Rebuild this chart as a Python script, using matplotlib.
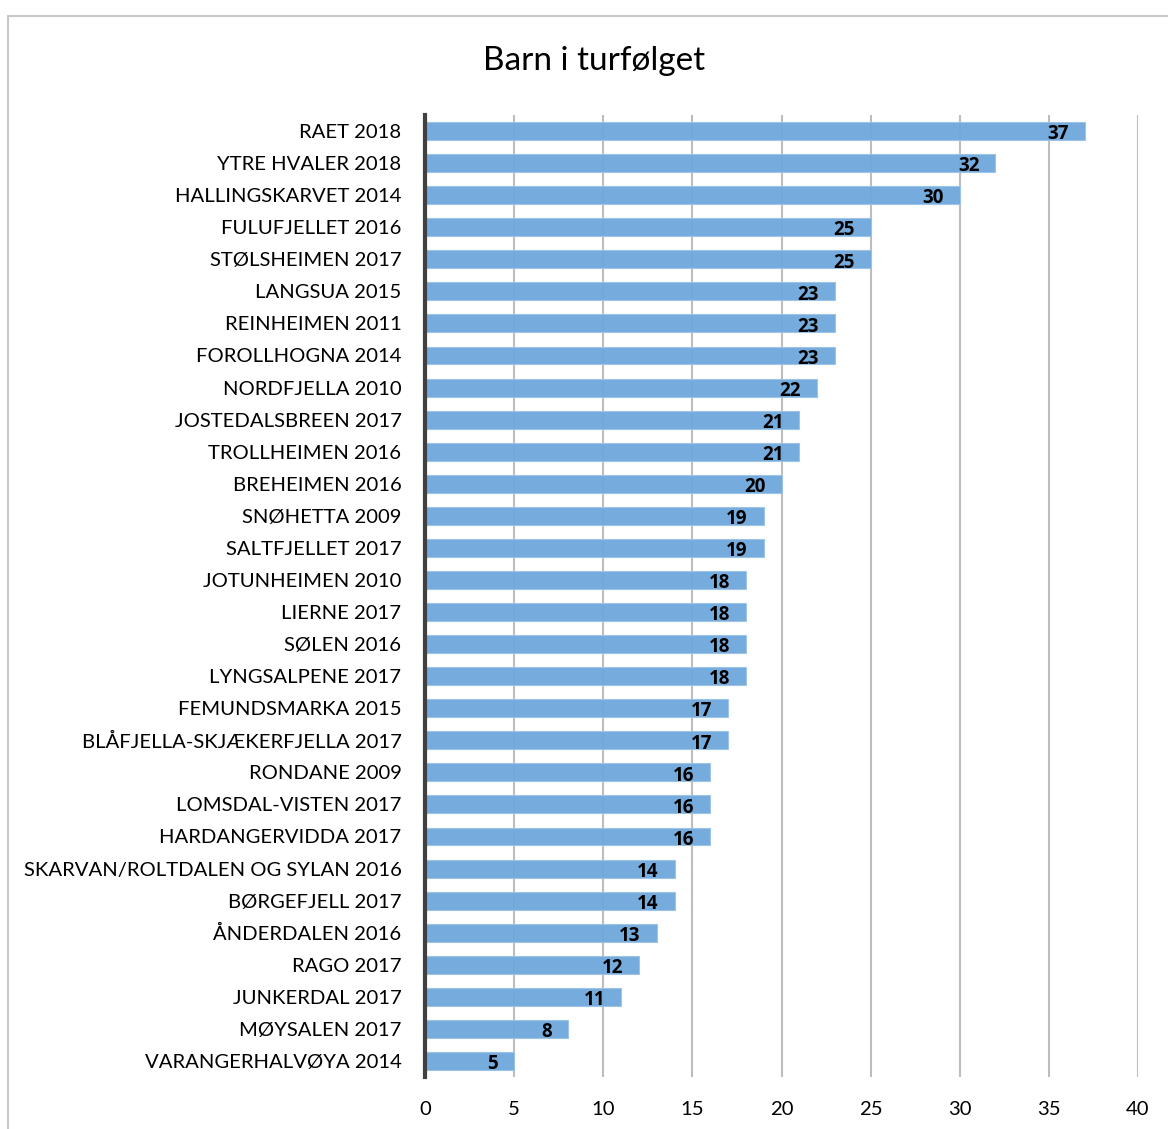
import matplotlib.pyplot as plt
from matplotlib.patches import Rectangle

# Data (top to bottom)
categories = [
    "RAET 2018", "YTRE HVALER 2018", "HALLINGSKARVET 2014", "FULUFJELLET 2016",
    "STØLSHEIMEN 2017", "LANGSUA 2015", "REINHEIMEN 2011", "FOROLLHOGNA 2014",
    "NORDFJELLA 2010", "JOSTEDALSBREEN 2017", "TROLLHEIMEN 2016", "BREHEIMEN 2016",
    "SNØHETTA 2009", "SALTFJELLET 2017", "JOTUNHEIMEN 2010", "LIERNE 2017",
    "SØLEN 2016", "LYNGSALPENE 2017", "FEMUNDSMARKA 2015", "BLÅFJELLA-SKJÆKERFJELLA 2017",
    "RONDANE 2009", "LOMSDAL-VISTEN 2017", "HARDANGERVIDDA 2017",
    "SKARVAN/ROLTDALEN OG SYLAN 2016", "BØRGEFJELL 2017", "ÅNDERDALEN 2016",
    "RAGO 2017", "JUNKERDAL 2017", "MØYSALEN 2017", "VARANGERHALVØYA 2014",
]
values = [37, 32, 30, 25, 25, 23, 23, 23, 22, 21, 21, 20, 19, 19, 18, 18, 18, 18,
          17, 17, 16, 16, 16, 14, 14, 13, 12, 11, 8, 5]
x_ticks = [0, 5, 10, 15, 20, 25, 30, 35, 40]

plt.rcParams['font.family'] = ['Lato', 'DejaVu Sans']

fig = plt.figure(figsize=(11.68, 11.29), dpi=100)
# outer chart border (cropped on right/bottom in the reference)
fig.patches.append(Rectangle((8 / 1168, -0.1), 1.2, 1 - 16 / 1129 + 0.1,
                             transform=fig.transFigure, fill=False,
                             edgecolor='#c8c8c8', linewidth=1.5))

ax = fig.add_axes([425 / 1168, 1 - 1077 / 1129, (1138 - 425) / 1168, (1077 - 115) / 1129])

pos = list(range(len(categories)))
ax.barh(pos, values, height=0.56, color='#6fa8dc', edgecolor='#9cc3e6',
        linewidth=0.8, alpha=0.95, zorder=2)

for p, v in zip(pos, values):
    ax.text(v - 0.9, p + 0.1, str(v), ha='right', va='center',
            fontsize=13.5, fontweight='bold', family=['Open Sans', 'DejaVu Sans'],
            color='black', zorder=3)

ax.set_yticks(pos)
ax.set_yticklabels(categories, fontsize=14.6)
ax.set_ylim(len(categories) - 0.5, -0.5)
ax.set_xlim(0, 40)
ax.set_xticks(x_ticks)
ax.set_xticklabels([str(t) for t in x_ticks], fontsize=14.6)
ax.tick_params(axis='both', length=0)
ax.tick_params(axis='y', pad=17)
ax.tick_params(axis='x', pad=17)

ax.grid(axis='x', color='#bdbdbd', linewidth=1.5, zorder=1)
ax.set_axisbelow(True)
for s in ['top', 'right', 'bottom']:
    ax.spines[s].set_visible(False)
ax.spines['left'].set_color('#404040')
ax.spines['left'].set_linewidth(3)
ax.spines['left'].set_zorder(4)

fig.text(594 / 1168, 1 - 61 / 1129, "Barn i turfølget", ha='center', va='center',
         fontsize=24, color='black')

fig.savefig("out.png", dpi=100)
